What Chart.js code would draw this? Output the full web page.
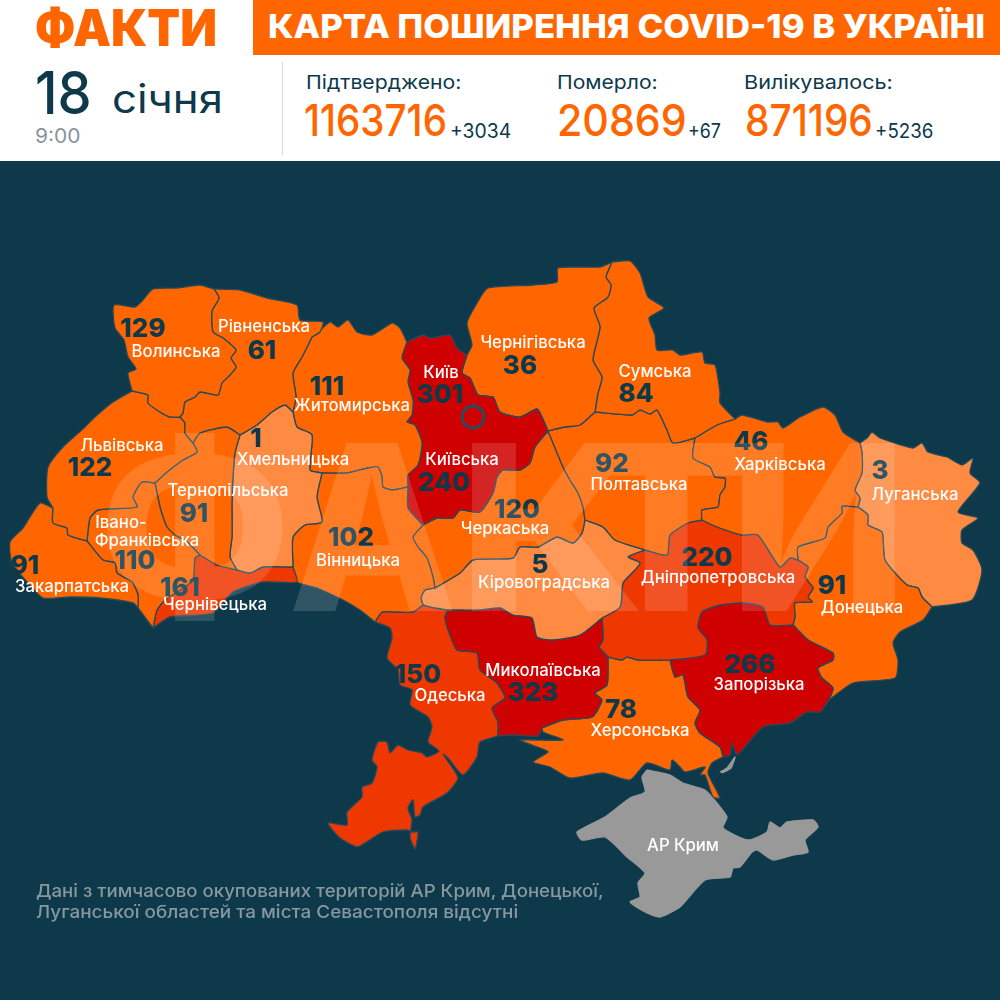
<!DOCTYPE html>
<html>
<head>
<meta charset="utf-8">
<script src="https://cdn.jsdelivr.net/npm/chart.js@4"></script>
<style>
html,body{margin:0;padding:0;background:#0d394b;}
#page{position:relative;width:1000px;height:1000px;overflow:hidden;font-family:Inter,sans-serif;}
#myChart{position:absolute;left:0;top:0;}
#head{position:absolute;left:0;top:0;width:1000px;height:161px;background:#fff;}
#band{position:absolute;left:253px;top:0;width:747px;height:55px;background:#ff6600;}
#rule{position:absolute;left:282px;top:62px;width:1px;height:93px;background:#d9d9d9;}
.t{position:absolute;white-space:nowrap;transform-origin:0 0;line-height:1;color:#0d394b;}
.o{color:#ff6600;}
</style>
</head>
<body>
<div id="page">
<canvas id="myChart" width="1000" height="1000"></canvas>
<div id="head">
<div id="band"></div>
<div id="rule"></div>
<div class="t o" data-w="182" style="left:35px;top:2px;font-size:51px;font-weight:900;">ФАКТИ</div>
<div class="t" data-w="717" style="left:268px;top:10px;font-size:33px;font-weight:800;color:#fff;">КАРТА ПОШИРЕННЯ COVID-19 В УКРАЇНІ</div>
<div class="t" data-w="57" style="left:35px;top:63px;font-size:59px;font-weight:500;">18</div>
<div class="t" data-w="111" style="left:112px;top:79px;font-size:39px;font-weight:400;">січня</div>
<div class="t" data-w="45" style="left:35px;top:126px;font-size:20px;color:#86949d;">9:00</div>
<div class="t" data-w="155" style="left:306px;top:73px;font-size:19px;">Підтверджено:</div>
<div class="t o" data-w="143" style="left:304px;top:98px;font-size:44px;font-weight:500;">1163716</div>
<div class="t" data-w="61" style="left:450px;top:121px;font-size:20px;">+3034</div>
<div class="t" data-w="101" style="left:557px;top:73px;font-size:19px;">Померло:</div>
<div class="t o" data-w="130" style="left:557px;top:98px;font-size:44px;font-weight:500;">20869</div>
<div class="t" data-w="33" style="left:688px;top:121px;font-size:20px;">+67</div>
<div class="t" data-w="149" style="left:744px;top:73px;font-size:19px;">Вилікувалось:</div>
<div class="t o" data-w="128" style="left:745px;top:98px;font-size:44px;font-weight:500;">871196</div>
<div class="t" data-w="58" style="left:875px;top:121px;font-size:20px;">+5236</div>
</div>
<div class="t" data-w="568" style="left:36px;top:882px;font-size:17.5px;font-weight:500;color:#87989f;">Дані з тимчасово окупованих територій АР Крим, Донецької,</div>
<div class="t" data-w="482" style="left:36px;top:903px;font-size:17.5px;font-weight:500;color:#87989f;">Луганської областей та міста Севастополя відсутні</div>
</div>
<script>
// oblast names and counts, same order everywhere
const regionNames = ['Волинська','Рівненська','Львівська','Закарпатська','Івано-\nФранківська','Тернопільська','Хмельницька','Чернівецька','Вінницька','Житомирська','Київська','Чернігівська','Сумська','Харківська','Полтавська','Черкаська','Кіровоградська','Миколаївська','Одеська','Дніпропетровська','Запорізька','Херсонська','Донецька','Луганська'];
const regionCounts = [129,61,122,91,110,91,1,161,102,111,240,36,84,46,92,120,5,323,150,220,266,78,91,3];
const cityName = 'Київ';
const cityCount = 301;
const crimeaName = 'АР Крим';
const logoLetters = ['Ф','А','К','Т','И'];

// where the labels sit
const nameAnchors = [[176,352],[264,327],[122,446],[72,587],[121,523],[228,491],[293,460],[215,605],[358,561],[352,406],[462,460],[533,343],[655,372],[780,465],[639,485],[505,529],[544,583],[543,671],[450,696],[718,578],[759,685],[640,731],[862,608],[915,495]];
const countAnchors = [[143,329],[262,351],[90,468],[25,566],[135,561],[194,514],[256,439],[180,588],[351,538],[327,387],[444,483],[520,366],[636,394],[751,442],[612,464],[517,510],[540,565],[533,693],[418,675],[707,558],[750,665],[621,710],[832,586],[880,471]];
const wrappedLineAnchor = [147,541];
const cityNameAnchor = [441,373];
const cityCountAnchor = [440,395];
const crimeaAnchor = [683,846];
const cityMarker = [{x:473,y:417}];
// left and right edge of each big logo letter, top and bottom of the word
const logoSpans = [[107,283],[293,453],[472,640],[590,742],[742,895]];
const logoBottom = 611;

// borders, in map units
const volynOuter = [[132,391],[128,373],[136,369],[128,357],[124,340],[115,328],[114,305],[135,307],[143,300],[153,289],[177,288],[200,285],[214,289]];
const volynRivne = [[214,289],[219,298],[212,311],[213,332],[223,338],[236,350],[231,358],[236,367],[230,375],[222,383],[218,395],[200,392],[195,397],[185,402],[183,413],[180,417]];
const volynLviv = [[132,391],[148,395],[148,403],[160,412],[170,417],[180,417]];
const rivneOuter = [[214,289],[240,290],[267,298],[297,305],[300,320],[323,322],[320,332],[312,337]];
const rivneZhyt = [[312,337],[302,357],[293,373],[296,397],[293,412]];
const rivneKhm = [[293,412],[285,405],[272,412],[257,425],[240,435]];
const rivneTern = [[240,435],[227,427],[200,433],[193,443]];
const rivneLviv = [[180,417],[185,423],[185,433],[193,443]];
const lvivOuter = [[132,391],[113,402],[95,417],[85,427],[63,447],[48,467],[47,497],[53,508]];
const lvivZak = [[53,508],[53,523],[67,528],[68,535],[87,541]];
const lvivIF = [[87,541],[90,518],[98,510],[137,507],[133,497],[142,482],[155,483]];
const lvivTern = [[155,483],[167,472],[183,460],[197,452],[193,443]];
const zakOuter = [[53,508],[40,503],[23,528],[10,542],[12,563],[28,583],[43,598],[70,597],[100,598],[133,603],[138,608]];
const zakIF = [[87,541],[103,560],[115,563],[117,573],[132,582],[138,595],[138,608]];
const ifSouth = [[138,608],[153,628]];
const ifChern = [[153,628],[157,610],[165,600],[180,590],[193,580],[195,558],[200,555]];
const ifTern = [[155,483],[160,507],[163,517],[167,527],[175,535],[187,542],[200,555]];
const ternKhm = [[240,435],[235,453],[233,477],[232,503],[232,537],[230,557],[237,570]];
const ternChern = [[200,555],[217,565],[237,570]];
const khmChern = [[237,570],[250,573],[263,567],[293,567]];
const khmVin = [[293,567],[293,537],[305,525],[322,522],[317,497],[322,473]];
const khmZhyt = [[322,473],[310,470],[312,435],[297,427],[293,412]];
const chernSouth = [[153,628],[170,617],[213,613],[233,592],[263,582],[297,582],[293,567]];
const vinSouth = [[293,567],[297,582],[317,588],[343,600],[360,610],[375,622]];
const vinOd = [[375,622],[382,612],[397,612],[413,612],[423,605]];
const vinKir = [[423,605],[421,598],[425,590],[435,588]];
const vinCher = [[435,588],[433,577],[427,558],[418,547],[413,537],[423,525]];
const vinKyiv = [[423,525],[408,508],[408,487]];
const vinZhyt = [[408,487],[392,490],[383,487],[382,477],[378,467],[368,468],[347,473],[322,473]];
const zhytOuter = [[312,337],[317,333],[330,322],[338,327],[348,320],[357,332],[372,335],[392,323],[400,328],[407,342]];
const zhytKyiv = [[407,342],[402,358],[410,370],[408,382],[413,400],[412,415],[407,422],[415,425],[422,443],[418,465],[408,475],[408,487]];
const kyivNorth = [[407,342],[423,335],[430,338],[450,335],[457,348],[467,355]];
const kyivChern = [[467,355],[462,373],[470,378],[478,395],[493,397],[500,412],[520,417],[537,409],[542,417],[548,431]];
const kyivCherk = [[548,431],[535,447],[530,463],[520,470],[503,470],[497,477],[493,493],[480,512],[460,510],[453,518],[437,518],[423,525]];
const chernihivOuter = [[467,355],[472,345],[467,323],[477,303],[488,288],[533,285],[557,282],[558,268],[600,267],[612,262]];
const chernSumy = [[612,262],[606,277],[611,285],[608,297],[594,308],[600,327],[593,360],[602,377],[598,393],[595,412]];
const chernPolt = [[595,412],[580,425],[565,427],[548,431]];
const sumyOuter = [[612,262],[630,261],[640,273],[648,297],[664,308],[649,318],[655,335],[657,350],[673,350],[680,355],[702,352],[705,363],[715,365],[720,393],[720,403],[735,419]];
const sumyKhar = [[735,419],[717,425],[695,438]];
const sumyPolt = [[695,438],[673,443],[667,430],[657,410],[650,414],[640,410],[632,415],[595,412]];
const kharOuter = [[735,419],[742,415],[768,422],[778,422],[783,428],[800,417],[823,407],[835,415],[843,432],[860,443]];
const kharLuh = [[860,443],[862,453],[862,473],[855,490],[860,498],[858,507]];
const kharDon = [[858,507],[842,506],[842,513],[828,527],[825,538],[798,547],[798,560]];
const kharDnipro = [[798,560],[790,558],[780,567],[758,535],[742,535],[717,527],[702,520]];
const kharPolt = [[702,520],[702,510],[718,507],[720,495],[725,487],[725,478],[715,477],[710,467],[693,458],[695,438]];
const poltDnipro = [[702,520],[688,523],[670,535],[667,555],[645,550]];
const poltKir = [[645,550],[615,540],[603,527],[585,520]];
const poltCherk = [[585,520],[583,507],[578,493],[570,480],[563,467],[548,431]];
const cherkKir = [[585,520],[582,533],[573,543],[557,537],[538,547],[520,547],[513,558],[473,560],[460,573],[435,588]];
const kirDnipro = [[645,550],[628,557],[640,563],[632,573],[623,583],[620,607],[602,618]];
const kirMyk = [[602,618],[580,635],[553,640],[537,637],[532,618],[513,615],[500,608],[480,610],[462,610],[448,610]];
const kirOd = [[423,605],[435,608],[448,610]];
const mykDnipro = [[602,618],[603,640],[599,647],[608,657]];
const mykKher = [[608,657],[607,685],[595,693],[602,700],[592,717],[563,720],[542,728]];
const mykSouth = [[542,728],[538,736],[513,735],[498,736]];
const odMyk = [[448,610],[445,618],[450,635],[457,650],[477,653],[480,670],[497,683],[505,698],[492,708],[498,722],[498,736]];
const odOuter = [[375,622],[390,628],[392,638],[387,658],[398,670],[400,685],[412,690],[410,705],[428,717],[432,727],[428,742],[439,751],[427,757],[422,753],[408,750],[398,745],[390,753],[387,742],[378,742],[372,760],[377,767],[372,783],[362,787],[362,797],[347,812],[347,825],[328,823],[340,838],[357,847],[365,843],[383,832],[407,830],[412,832],[418,832],[415,849],[410,837],[412,820],[408,808],[413,800],[415,817],[420,815],[423,807],[447,793],[458,778],[447,760],[443,754],[448,758],[463,775],[477,757],[480,742],[498,736]];
const dnipKher = [[608,657],[622,660],[627,657],[638,660],[670,660]];
const dnipZap = [[670,660],[705,655],[707,640],[698,628],[702,612],[720,605],[743,603],[763,607],[770,625],[793,625]];
const dnipDon = [[793,625],[795,617],[795,603],[812,602],[808,597],[813,588],[805,577],[808,567],[798,560]];
const zapDon = [[793,625],[808,640],[833,653],[833,660],[818,668],[822,678],[833,688],[829,700]];
const zapOuter = [[829,700],[820,712],[807,712],[790,723],[763,727],[737,755],[732,743],[730,755],[723,757]];
const zapKher = [[723,757],[720,747],[700,733],[695,723],[700,710],[688,697],[683,675],[675,677],[670,660]];
const kherOuter = [[723,757],[712,763],[708,773],[720,798],[713,797],[705,775],[700,775],[705,767],[685,772],[680,767],[672,760],[670,770],[647,763],[630,780],[603,773],[570,778],[550,767],[533,762],[548,752],[540,748],[520,740],[563,740],[543,732],[542,728]];
const donLuh = [[858,507],[868,515],[868,525],[882,532],[885,560],[907,585],[918,588],[922,597],[932,607]];
const donOuter = [[829,700],[853,683],[895,678],[898,660],[893,643],[900,632],[923,620],[932,607]];
const luhOuter = [[860,443],[868,437],[872,432],[880,438],[913,448],[922,443],[928,452],[947,457],[962,465],[973,458],[970,473],[980,483],[958,512],[978,518],[962,530],[962,543],[973,550],[982,570],[972,600],[932,607]];
const crimeaOutline = [[647,770],[670,775],[683,783],[705,790],[717,803],[727,817],[723,828],[748,840],[767,832],[770,822],[780,828],[787,822],[813,820],[818,827],[805,840],[808,852],[793,855],[773,860],[757,850],[752,852],[740,867],[733,868],[730,877],[705,880],[680,907],[660,917],[647,913],[630,902],[640,897],[638,883],[645,873],[627,857],[605,837],[582,840],[577,832],[605,817],[630,798],[645,792],[642,777],[647,770]];
const spitOutline = [[720,772],[727,768],[735,757],[731,768],[722,773]];

const rev = a => a.slice().reverse();
const ring = (...parts) => parts.flat().map(p => ({x:p[0],y:p[1]}));

// same order as regionNames
const regionRings = [
  ring(volynOuter,volynRivne,rev(volynLviv)),
  ring(rivneOuter,rivneZhyt,rivneKhm,rivneTern,rev(rivneLviv),rev(volynRivne)),
  ring(lvivOuter,lvivZak,lvivIF,lvivTern,rev(rivneLviv),rev(volynLviv)),
  ring(zakOuter,rev(zakIF),rev(lvivZak)),
  ring(zakIF,ifSouth,ifChern,rev(ifTern),rev(lvivIF)),
  ring(ifTern,ternChern,rev(ternKhm),rivneTern,rev(lvivTern)),
  ring(ternKhm,khmChern,khmVin,khmZhyt,rivneKhm),
  ring(chernSouth,rev(khmChern),rev(ternChern),rev(ifChern)),
  ring(vinSouth,vinOd,vinKir,vinCher,vinKyiv,vinZhyt,rev(khmVin)),
  ring(zhytOuter,zhytKyiv,vinZhyt,khmZhyt,rev(rivneZhyt)),
  ring(kyivNorth,kyivChern,kyivCherk,vinKyiv,rev(zhytKyiv)),
  ring(chernihivOuter,chernSumy,chernPolt,rev(kyivChern)),
  ring(sumyOuter,sumyKhar,sumyPolt,rev(chernSumy)),
  ring(kharOuter,kharLuh,kharDon,kharDnipro,kharPolt,rev(sumyKhar)),
  ring(rev(sumyPolt),rev(kharPolt),poltDnipro,poltKir,poltCherk,rev(chernPolt)),
  ring(rev(poltCherk),cherkKir,vinCher,rev(kyivCherk)),
  ring(rev(poltKir),kirDnipro,kirMyk,rev(kirOd),vinKir,rev(cherkKir)),
  ring(rev(kirMyk),mykDnipro,mykKher,mykSouth,rev(odMyk)),
  ring(vinOd,kirOd,odMyk,rev(odOuter)),
  ring(rev(poltDnipro),rev(kharDnipro),rev(dnipDon),rev(dnipZap),rev(dnipKher),rev(mykDnipro),rev(kirDnipro)),
  ring(dnipZap,zapDon,zapOuter,zapKher),
  ring(dnipKher,rev(zapKher),kherOuter,rev(mykKher)),
  ring(rev(kharDon),donLuh,rev(donOuter),rev(zapDon),dnipDon),
  ring(luhOuter,rev(donLuh),rev(kharLuh))
];

function colorFor(n){
  if(n <= 5) return '#ff8a42';
  if(n <= 140) return '#ff6600';
  if(n <= 230) return '#ef3700';
  return '#cf0000';
}

function area(points, color, line){
  return {data:points, showLine:true, fill:'shape', backgroundColor:color, borderColor:line, borderWidth:1.3, pointRadius:0, tension:0.2};
}

const datasets = [{data:cityMarker, pointRadius:11, pointBackgroundColor:'#cf0000', pointBorderColor:'#2c4a5c', pointBorderWidth:3, showLine:false}];
regionRings.forEach((r,i) => datasets.push(area(r, colorFor(regionCounts[i]), '#264a5b')));
datasets.push(area(ring(crimeaOutline),'#999999','#999999'));
datasets.push(area(ring(spitOutline),'#999999','#999999'));

const mapLabels = {
  id:'mapLabels',
  afterDatasetsDraw(chart){
    const {ctx,scales:{x,y}} = chart;
    ctx.save();
    ctx.textAlign = 'center';
    ctx.textBaseline = 'middle';
    function put(text,p,font,color){
      ctx.font = font;
      ctx.fillStyle = color;
      ctx.fillText(text,x.getPixelForValue(p[0]),y.getPixelForValue(p[1]));
    }
    const nameFont = '500 16.7px Inter';
    const countFont = '800 26px Inter';
    regionNames.forEach((n,i) => {
      const lines = n.split('\n');
      put(String(regionCounts[i]),countAnchors[i],countFont,'#0d394b');
      put(lines[0],nameAnchors[i],nameFont,'#fff');
      if(lines[1]) put(lines[1],wrappedLineAnchor,nameFont,'#fff');
    });
    put(String(cityCount),cityCountAnchor,countFont,'#0d394b');
    put(cityName,cityNameAnchor,nameFont,'#fff');
    put(crimeaName,crimeaAnchor,nameFont,'#fff');
    ctx.restore();

    // big logo lies over everything on the map, letters touch so draw them on a
    // separate layer first or the overlaps come out brighter
    const layer = document.createElement('canvas');
    layer.width = chart.canvas.width;
    layer.height = chart.canvas.height;
    const lc = layer.getContext('2d');
    lc.scale(chart.currentDevicePixelRatio,chart.currentDevicePixelRatio);
    lc.font = '800 231px Inter';
    lc.fillStyle = '#fff';
    logoLetters.forEach((ch,i) => {
      const m = lc.measureText(ch);
      const left = x.getPixelForValue(logoSpans[i][0]);
      const right = x.getPixelForValue(logoSpans[i][1]);
      const k = (right-left)/(m.actualBoundingBoxLeft+m.actualBoundingBoxRight);
      lc.save();
      lc.translate(left+m.actualBoundingBoxLeft*k,y.getPixelForValue(logoBottom));
      lc.scale(k,1);
      lc.fillText(ch,0,0);
      lc.restore();
    });
    ctx.save();
    ctx.setTransform(1,0,0,1,0,0);
    ctx.globalAlpha = 0.14;
    ctx.drawImage(layer,0,0);
    ctx.restore();
  }
};

new Chart(document.getElementById('myChart'),{
  type:'scatter',
  data:{datasets:datasets},
  options:{
    responsive:false,
    animation:false,
    layout:{padding:0,autoPadding:false},
    plugins:{legend:{display:false},tooltip:{enabled:false},filler:{propagate:false}},
    scales:{
      x:{type:'linear',min:0,max:1000,display:false},
      y:{type:'linear',min:0,max:1000,reverse:true,display:false}
    }
  },
  plugins:[mapLabels]
});

// squeeze header text to the widths in the picture
document.querySelectorAll('.t').forEach(el => {
  const want = +el.dataset.w;
  el.style.transform = 'scaleX('+(want/el.offsetWidth)+')';
});
</script>
</body>
</html>
